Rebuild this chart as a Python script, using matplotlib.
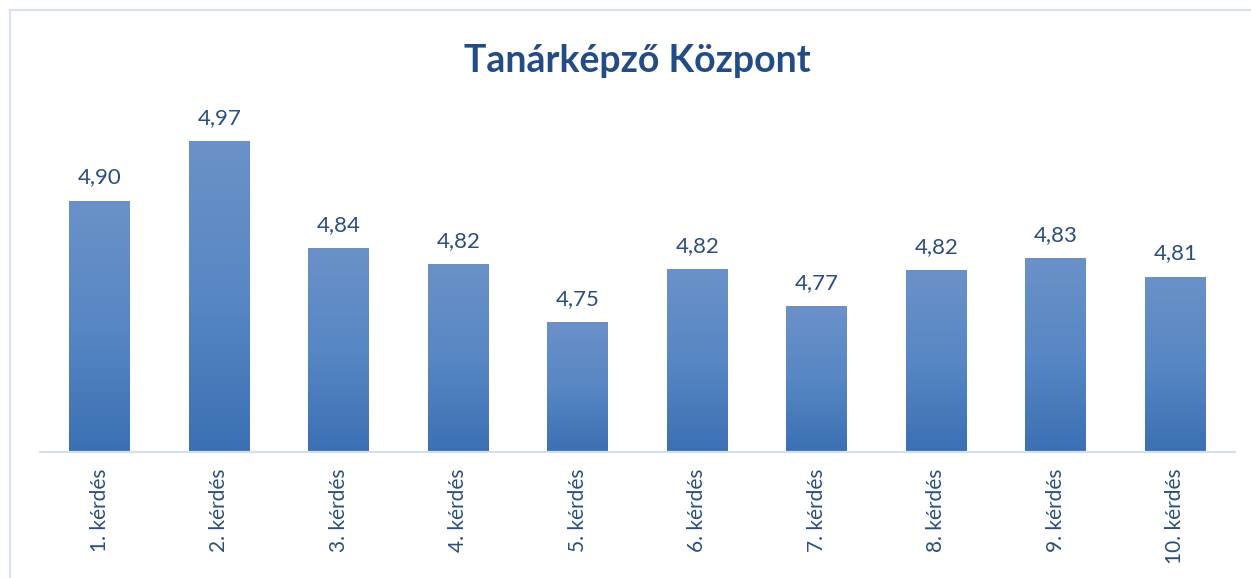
import matplotlib
matplotlib.use("Agg")
import matplotlib.pyplot as plt
import numpy as np
from matplotlib.colors import LinearSegmentedColormap
from matplotlib.patches import Rectangle

plt.rcParams['font.family'] = ['Lato', 'DejaVu Sans']

title = "Tanárképző Központ"
categories = ["1. kérdés", "2. kérdés", "3. kérdés", "4. kérdés", "5. kérdés",
              "6. kérdés", "7. kérdés", "8. kérdés", "9. kérdés", "10. kérdés"]
values = [4.898, 4.969, 4.842, 4.823, 4.754, 4.817, 4.773, 4.816, 4.830, 4.808]

W, H = 1251, 578
fig = plt.figure(figsize=(W / 100, H / 100), dpi=100)
ax = fig.add_axes([40 / W, 1 - 452 / H, (1235 - 40) / W, (452 - 115) / H])

text_col = "#2a4e80"
grad = LinearSegmentedColormap.from_list("bar", ["#3c70b3", "#5787c4", "#6b91c8"])

x = np.arange(len(categories))
bars = ax.bar(x, values, width=0.51, bottom=0, color="none", edgecolor="none")
ymin, ymax = 4.6, 5.0
ramp = np.linspace(0, 1, 256).reshape(-1, 1)
for b in bars:
    x0 = b.get_x()
    im = ax.imshow(ramp, cmap=grad, aspect="auto", origin="lower",
                   extent=[x0, x0 + b.get_width(), ymin, b.get_height()], zorder=2)
    im.set_clip_path(b)

for xi, v in zip(x, values):
    ax.annotate(f"{v:.2f}".replace(".", ","), (xi, v), xytext=(0, 12.5),
                textcoords="offset points", ha="center", va="baseline",
                fontsize=16, color=text_col)

ax.set_xlim(-0.5, len(categories) - 0.5)
ax.set_ylim(ymin, ymax)
ax.set_xticks(x)
ax.set_xticklabels(categories, rotation=90, fontsize=15, color=text_col)
ax.tick_params(axis="x", length=0, pad=12)
ax.set_yticks([])
for s in ["top", "right", "left"]:
    ax.spines[s].set_visible(False)
ax.spines["bottom"].set_color("#d3deee")
ax.spines["bottom"].set_linewidth(1.6)

fig.text(637 / W, 1 - 72 / H, title, ha="center", va="baseline",
         fontsize=27, fontweight="bold", color="#234c84")

# chart frame
fig.patches.append(Rectangle((10 / W, -0.1), 1.1, 1 - 10 / H + 0.1,
                             transform=fig.transFigure, fill=False,
                             edgecolor="#d6e2f1", linewidth=1.5))

fig.savefig("out.png", dpi=100)
